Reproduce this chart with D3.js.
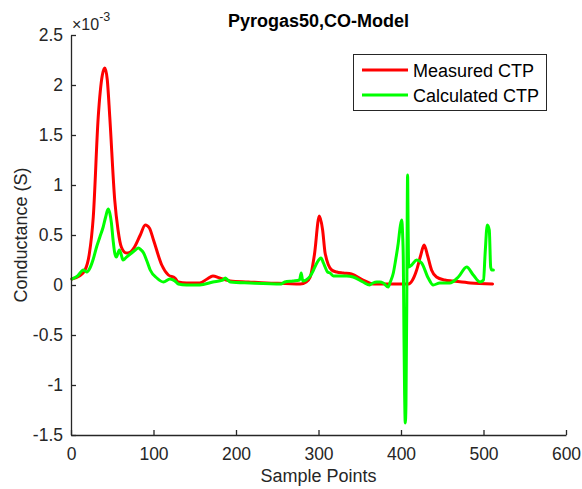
<!DOCTYPE html>
<html><head><meta charset="utf-8">
<script src="https://cdn.jsdelivr.net/npm/d3@7/dist/d3.min.js"></script>
<style>body{margin:0;background:#fff}svg{display:block}text{font-family:"Liberation Sans",Arial,Helvetica,sans-serif}</style>
</head><body><svg id="c" width="582" height="489"></svg>
<script>
const title = "Pyrogas50,CO-Model";
const xLabel = "Sample Points";
const yLabel = "Conductance (S)";
const xTicks = [0,100,200,300,400,500,600];
const yTicks = [-1.5,-1,-0.5,0,0.5,1,1.5,2,2.5];
const seriesNames = ["Measured CTP","Calculated CTP"];

const measuredX = [1,10,17,22,27,33,38,41,44,47,53,57,61,67,72,77,84,90,95,100,110,118,126,130,140,156,165,172,180,193,215,237,260,278,285,290,295,301,305,308,316,322,330,340,354,366,380,399,409,414,419,424,428,432,437,443,453,463,484,511];
const measuredY = [0.06,0.09,0.15,0.3,0.68,1.68,2.1,2.17,2.05,1.68,0.85,0.55,0.38,0.32,0.33,0.38,0.5,0.6,0.57,0.45,0.2,0.1,0.07,0.03,0.02,0.02,0.06,0.09,0.07,0.04,0.03,0.02,0.015,0.01,0.03,0.08,0.3,0.69,0.55,0.32,0.15,0.13,0.12,0.11,0.05,0.01,0.01,0.01,0.01,0.05,0.15,0.3,0.40,0.3,0.15,0.08,0.05,0.04,0.02,0.01];

const calcX = [1,8,15,19,23,27,31,35,39,42,45,47,49,51,53,55,58.6,61,63,65,67.5,73.5,78,81.6,85,88,92,96,104,112,120,126,130,140,156,172,184,187,190,193,217,255,259,269,277,279,281,285,290,294,298,303,306,308,311,314,318,326,334,342,354,362,366,370.5,374.5,378.5,384.6,387,390.7,393.5,396.7,399,400.8,402,402.8,403.6,404.4,405.2,406,407,407.6,408,408.6,409.3,413,419,425,433,439,447,459,469.5,479.6,487.6,495.8,500,502,504.6,507,508.7,510,512];
const calcY = [0.06,0.09,0.15,0.13,0.17,0.26,0.38,0.48,0.58,0.68,0.76,0.72,0.62,0.45,0.32,0.28,0.35,0.3,0.25,0.26,0.28,0.32,0.35,0.37,0.35,0.32,0.24,0.15,0.07,0.03,0.06,0.04,0.01,0.0,0.0,0.03,0.05,0.07,0.05,0.03,0.02,0.01,0.03,0.04,0.05,0.12,0.04,0.05,0.09,0.15,0.22,0.27,0.22,0.18,0.13,0.12,0.09,0.09,0.09,0.08,0.03,0.0,0.02,0.03,0.03,0.02,-0.02,0.03,0.12,0.25,0.42,0.58,0.65,0.5,0.25,-0.5,-1.1,-1.38,-1.2,-0.2,0.8,1.10,0.6,0.18,0.20,0.25,0.22,0.07,0.0,0.02,0.02,0.08,0.18,0.10,0.03,0.05,0.32,0.60,0.55,0.18,0.15,0.15];

const svg = d3.select("#c");
svg.append("rect").attr("width",582).attr("height",489).attr("fill","#fff");
const x = d3.scaleLinear().domain([0,600]).range([71,566]);
const y = d3.scaleLinear().domain([-1.5,2.5]).range([435,35]);
const axisColor = "#262626";

const line = d3.line().x(d=>x(d[0])).y(d=>y(d[1])).curve(d3.curveMonotoneX);
const series = [
  {name:seriesNames[0], color:"#ff0000", data:measuredX.map((v,i)=>[v,measuredY[i]])},
  {name:seriesNames[1], color:"#00ff00", data:calcX.map((v,i)=>[v,calcY[i]])}
];
series.forEach(s=>{
  svg.append("path").attr("d",line(s.data)).attr("fill","none").attr("stroke",s.color)
    .attr("stroke-width",3).attr("stroke-linejoin","round").attr("stroke-linecap","round");
});

const xa = svg.append("g").attr("transform","translate(0,435)")
  .call(d3.axisBottom(x).tickValues(xTicks).tickSizeInner(-5).tickSizeOuter(0).tickPadding(13).tickFormat(d3.format("d")));
const ya = svg.append("g").attr("transform","translate(71,0)")
  .call(d3.axisLeft(y).tickValues(yTicks).tickSizeInner(-5).tickSizeOuter(0).tickPadding(8).tickFormat(d=>String(d)));
[xa,ya].forEach(a=>{
  a.select(".domain").attr("stroke",axisColor).attr("stroke-width",1.3);
  a.selectAll(".tick line").attr("stroke",axisColor).attr("stroke-width",1.3);
  a.selectAll(".tick text").attr("fill",axisColor).style("font-size","17.5px").style("font-family",'"Liberation Sans",Arial,sans-serif');
});

svg.append("text").attr("x",318.5).attr("y",27).attr("text-anchor","middle")
  .style("font-size","18px").style("font-weight","bold").attr("fill","#000").text(title);
svg.append("text").attr("x",318.5).attr("y",482).attr("text-anchor","middle")
  .style("font-size","18px").attr("fill",axisColor).text(xLabel);
svg.append("text").attr("transform","translate(27,235) rotate(-90)").attr("text-anchor","middle")
  .style("font-size","18px").attr("fill",axisColor).text(yLabel);

const ex = svg.append("text").attr("x",72).attr("y",30).attr("fill",axisColor).style("font-size","16px");
ex.append("tspan").text("\u00d710");
ex.append("tspan").attr("dy",-9).style("font-size","12.5px").text("-3");

const lg = svg.append("g");
lg.append("rect").attr("x",353.5).attr("y",54.5).attr("width",193).attr("height",56)
  .attr("fill","#fff").attr("stroke",axisColor).attr("stroke-width",1);
series.forEach((s,i)=>{
  const cy = 70 + i*25;
  lg.append("line").attr("x1",362).attr("x2",408).attr("y1",cy).attr("y2",cy).attr("stroke",s.color).attr("stroke-width",3);
  lg.append("text").attr("x",413).attr("y",cy+6.5).style("font-size","18px").attr("fill","#000").text(s.name);
});
</script></body></html>
